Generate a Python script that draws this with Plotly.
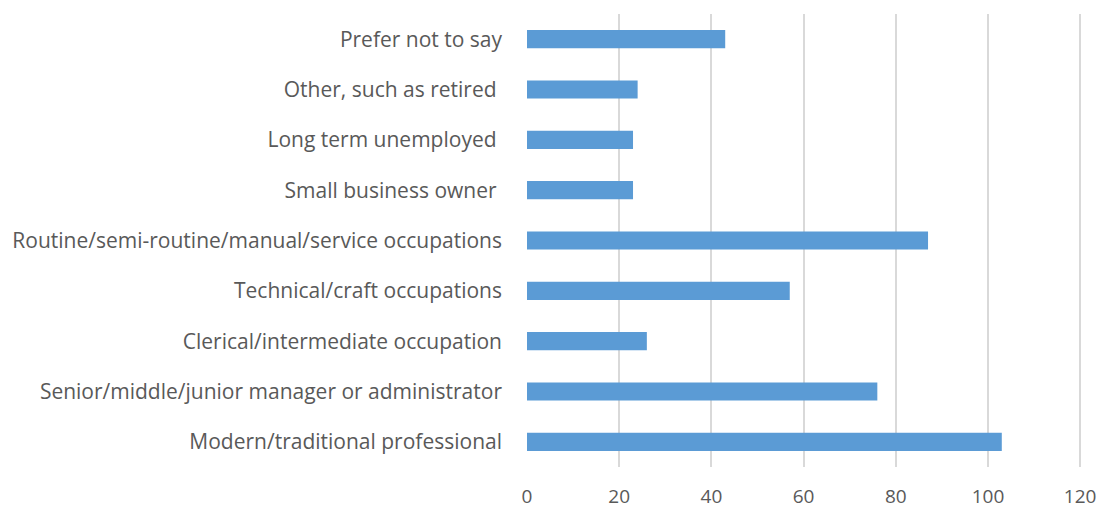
import plotly.graph_objects as go

# Respondent occupation categories (bottom to top) and counts
categories = [
    "Modern/traditional professional",
    "Senior/middle/junior manager or administrator",
    "Clerical/intermediate occupation",
    "Technical/craft occupations",
    "Routine/semi-routine/manual/service occupations",
    "Small business owner ",
    "Long term unemployed ",
    "Other, such as retired ",
    "Prefer not to say",
]
counts = [103, 76, 26, 57, 87, 23, 23, 24, 43]
x_ticks = [0, 20, 40, 60, 80, 100, 120]

# keep trailing spaces visible in the SVG labels
tick_text = [c.replace(" ", "\u00a0") if c.endswith(" ") else c for c in categories]

fig = go.Figure(
    go.Bar(
        x=counts,
        y=categories,
        orientation="h",
        marker=dict(color="#5B9BD5", line=dict(width=0)),
        hoverinfo="x+y",
    )
)

fig.update_layout(
    width=1103,
    height=511,
    margin=dict(l=527, r=21, t=14, b=44),
    plot_bgcolor="white",
    paper_bgcolor="white",
    bargap=0.64,
    showlegend=False,
    font=dict(family="'Open Sans', sans-serif", color="#595959", size=21),
)

fig.update_xaxes(
    range=[0, 120.4],
    tickvals=x_ticks,
    showgrid=True,
    gridcolor="#D9D9D9",
    gridwidth=2,
    zeroline=False,
    showline=False,
    ticks="",
    automargin=False,
    ticklabelstandoff=16,
    tickfont=dict(size=19, color="#595959"),
)

fig.update_yaxes(
    categoryorder="array",
    categoryarray=categories,
    tickvals=categories,
    ticktext=tick_text,
    showgrid=False,
    zeroline=False,
    showline=False,
    ticks="",
    automargin=False,
    ticklabelstandoff=24,
    tickfont=dict(size=21, color="#595959"),
)

fig.write_html("out.html")
